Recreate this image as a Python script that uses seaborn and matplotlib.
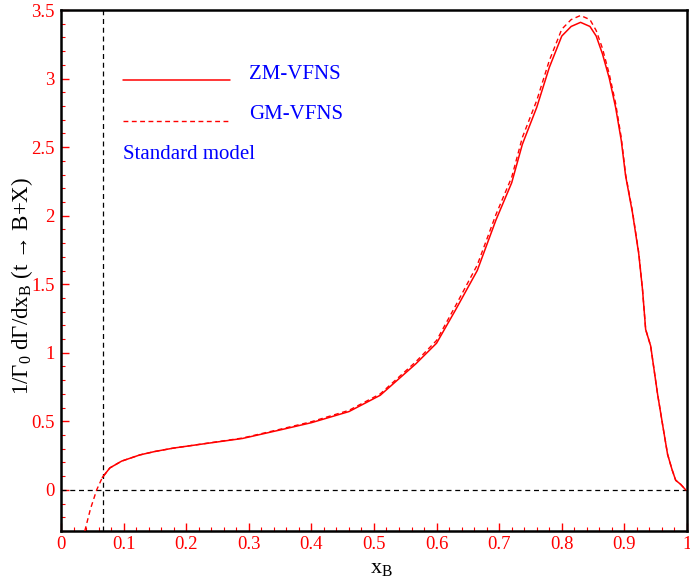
import matplotlib
matplotlib.use("Agg")
import matplotlib.pyplot as plt
from matplotlib.lines import Line2D
from matplotlib.ticker import MultipleLocator, FuncFormatter
import seaborn as sns
import pandas as pd

# ZM-VFNS energy spectrum of B hadrons in top decay
x_zm = [0.066, 0.078, 0.097, 0.126, 0.15, 0.18, 0.23, 0.29, 0.35, 0.40, 0.46,
        0.51, 0.567, 0.60, 0.63, 0.665, 0.695, 0.72, 0.737, 0.76, 0.78, 0.80,
        0.815, 0.83, 0.845, 0.855, 0.865, 0.876, 0.886, 0.895, 0.902, 0.913,
        0.923, 0.929, 0.934, 0.942, 0.953, 0.962, 0.969, 0.976, 0.982, 0.99, 0.998]
y_zm = [0.09, 0.16, 0.21, 0.255, 0.28, 0.305, 0.337, 0.375, 0.437, 0.49, 0.571,
        0.69, 0.92, 1.07, 1.31, 1.60, 1.97, 2.24, 2.52, 2.79, 3.08, 3.31,
        3.38, 3.41, 3.38, 3.31, 3.18, 3.00, 2.79, 2.55, 2.29, 2.02,
        1.72, 1.46, 1.17, 1.05, 0.70, 0.45, 0.26, 0.15, 0.07, 0.04, 0.0]

# GM-VFNS energy spectrum
x_gm = [0.038, 0.047, 0.057] + x_zm
y_gm = [-0.30, -0.14, 0.0,
        0.09, 0.16, 0.21, 0.255, 0.28, 0.305, 0.338, 0.378, 0.442, 0.497, 0.58,
        0.70, 0.935, 1.09, 1.34, 1.64, 2.01, 2.28, 2.57, 2.84, 3.13, 3.36,
        3.43, 3.46, 3.43, 3.35, 3.22, 3.03, 2.82, 2.57, 2.30, 2.03,
        1.73, 1.46, 1.17, 1.05, 0.70, 0.45, 0.26, 0.15, 0.07, 0.04, 0.0]

x_threshold = 0.067
series_names = ["ZM-VFNS", "GM-VFNS"]
note_text = "Standard model"

sns.set_theme(style="ticks")
plt.rcParams["font.family"] = ["Liberation Serif", "DejaVu Serif"]
plt.rcParams["mathtext.fontset"] = "custom"
plt.rcParams["mathtext.rm"] = "Liberation Serif"
plt.rcParams["mathtext.it"] = "Liberation Serif:italic"

fig = plt.figure(figsize=(6.9, 5.85), dpi=100)
ax = fig.add_axes([0.0884, 0.0923, 0.9072, 0.8906])

df_zm = pd.DataFrame({"x": x_zm, "y": y_zm})
df_gm = pd.DataFrame({"x": x_gm, "y": y_gm})

dash_ref = (0, (4, 3))
dash_gm = (0, (3.5, 2.5))

ax.axhline(0, color="black", lw=0.9, ls=dash_ref, zorder=1)
ax.axvline(x_threshold, color="black", lw=0.9, ls=dash_ref, zorder=1)

sns.lineplot(data=df_zm, x="x", y="y", ax=ax, color="red", lw=1.1,
             sort=False, legend=False, zorder=3)
sns.lineplot(data=df_gm, x="x", y="y", ax=ax, color="red", lw=1.0,
             sort=False, legend=False, zorder=3)
ax.lines[-1].set_linestyle(dash_gm)

ax.set_xlim(0, 1)
ax.set_ylim(-0.3, 3.5)

ax.xaxis.set_major_locator(MultipleLocator(0.1))
ax.xaxis.set_minor_locator(MultipleLocator(0.02))
ax.yaxis.set_major_locator(MultipleLocator(0.5))
ax.yaxis.set_minor_locator(MultipleLocator(0.1))
fmt = FuncFormatter(lambda v, p: f"{v:.10g}" if abs(v) > 1e-9 else "0")
ax.xaxis.set_major_formatter(fmt)
ax.yaxis.set_major_formatter(fmt)

ax.tick_params(which="both", direction="in", color="red", labelcolor="red",
               labelsize=13.5, top=False, right=False)
ax.tick_params(which="major", length=6, width=1.0)
ax.tick_params(which="minor", length=3, width=0.8)
ax.tick_params(axis="x", which="major", pad=3.5)
ax.tick_params(axis="y", which="major", pad=4.5)

for side in ["left", "right", "top", "bottom"]:
    ax.spines[side].set_visible(True)
    ax.spines[side].set_color("black")
    ax.spines[side].set_linewidth(1.8)

ax.set_xlabel(r"x$_\mathrm{B}$", fontsize=16, color="black")
ax.xaxis.set_label_coords(0.512, -0.054)
ax.set_ylabel(r"1/Γ$_\mathrm{0}$ dΓ/dx$_\mathrm{B}$ (t → B+X)", fontsize=16.5,
              color="black")
ax.yaxis.set_label_coords(-0.041, 0.47)

# key: sample lines with labels, followed by the model note
key_font = 15
ax.add_line(Line2D([0.099, 0.2695], [0.866, 0.866], transform=ax.transAxes,
                   color="red", lw=1.1))
ax.text(0.300, 0.877, series_names[0], transform=ax.transAxes, color="blue",
        fontsize=key_font, va="center", ha="left")
ax.add_line(Line2D([0.099, 0.2695], [0.787, 0.787], transform=ax.transAxes,
                   color="red", lw=1.0, ls=dash_gm))
ax.text(0.300, 0.800, series_names[1], transform=ax.transAxes, color="blue",
        fontsize=key_font, va="center", ha="left")
ax.text(0.099, 0.722, note_text, transform=ax.transAxes, color="blue",
        fontsize=key_font, va="center", ha="left")

fig.savefig("out.png", dpi=100)
